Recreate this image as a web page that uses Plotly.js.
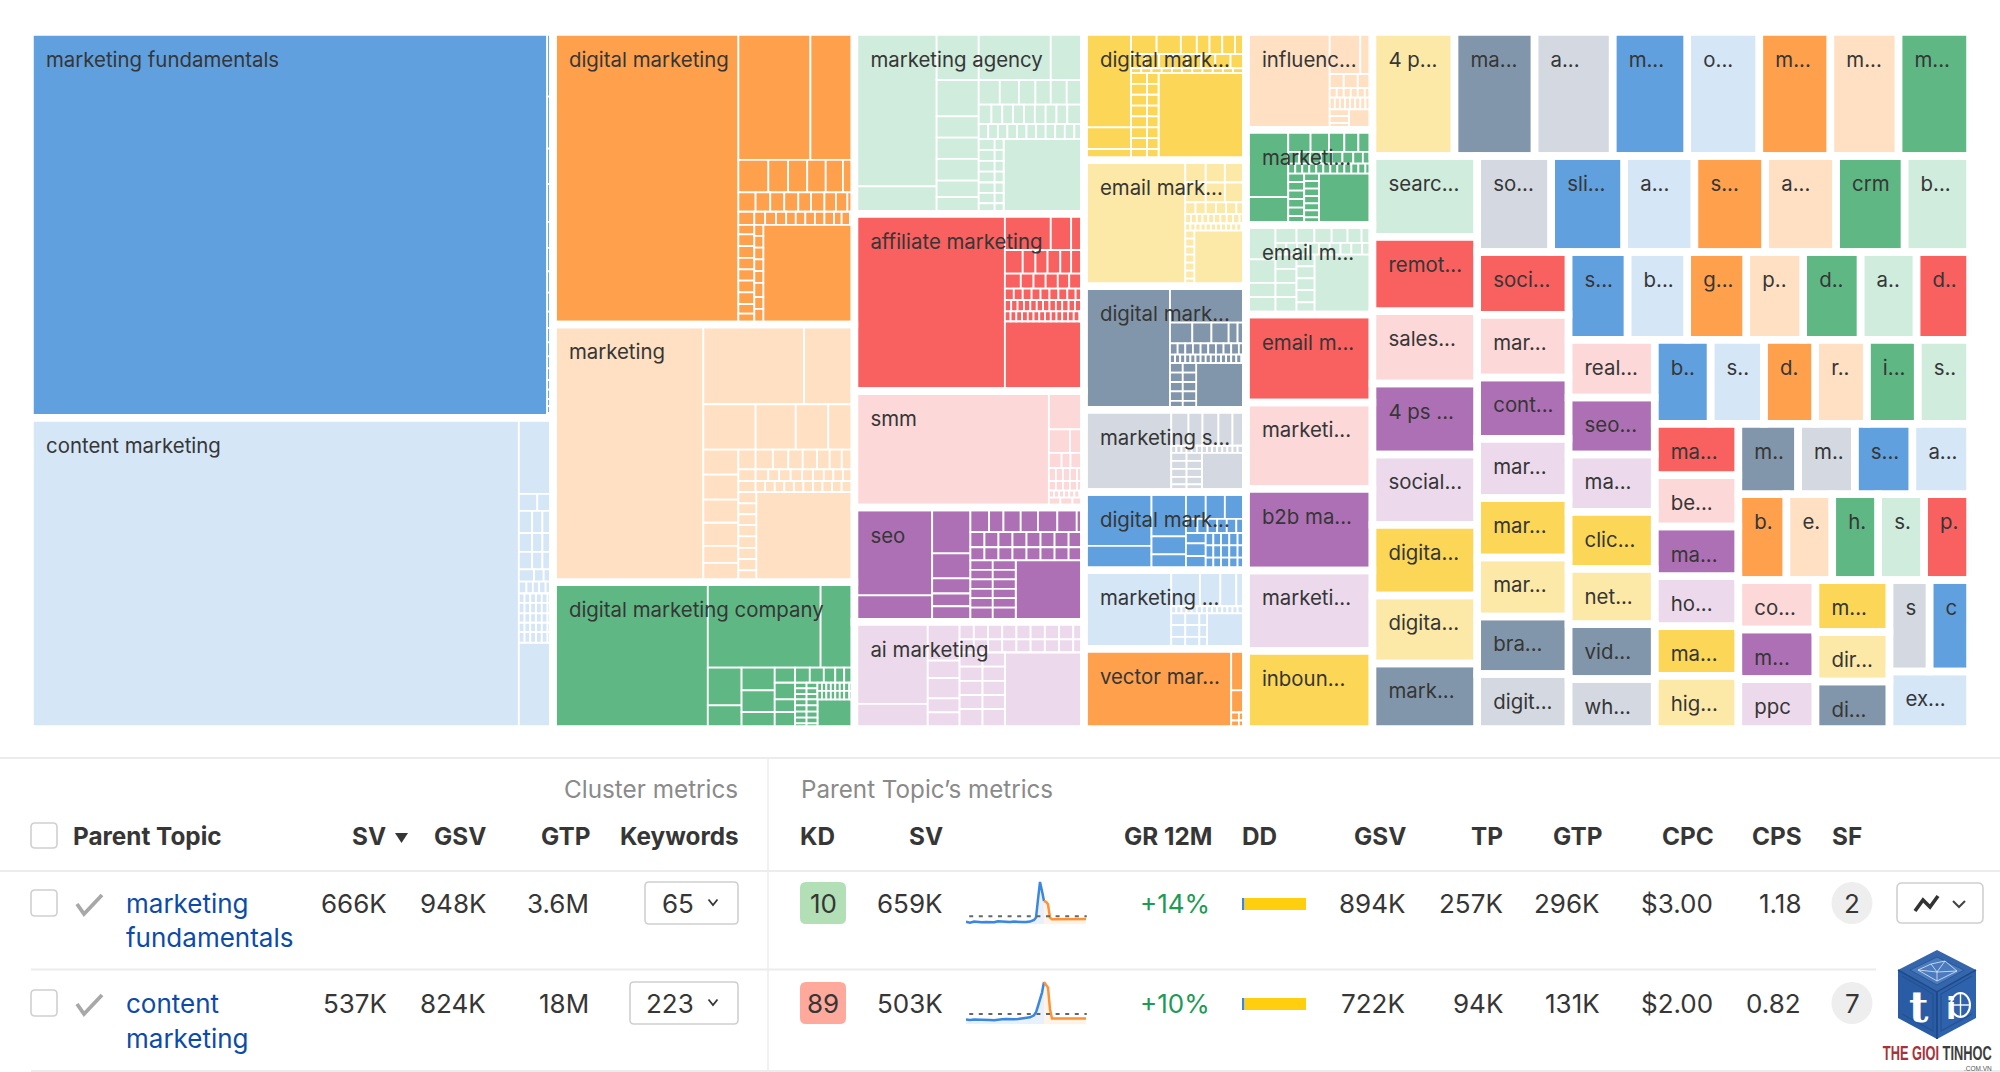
<!DOCTYPE html>
<html><head><meta charset="utf-8"><script src="https://cdn.plot.ly/plotly-3.0.1.min.js"></script>
<style>html,body{margin:0;padding:0;background:#fff}</style></head>
<body><div id="chart" style="width:2000px;height:1072px"></div>
<script>
// ---------- treemap data: cluster size (thousands of SV), in display order ----------
const topicLabels = ["marketing fundamentals","content marketing","digital marketing","marketing","digital marketing company","marketing agency","affiliate marketing","smm","seo","ai marketing",
"digital mark...","email mark...","digital mark...","marketing s...","digital mark...","marketing ...","vector mar...",
"influenc...","marketi...","email m...","email m...","marketi...","b2b ma...","marketi...","inboun...",
"4 p...","ma...","a...","m...","o...","m...","m...","m...",
"searc...","remot...","sales...","4 ps ...","social...","digita...","digita...","mark...",
"so...","sli...","a...","s...","a...","crm","b...",
"soci...","mar...","cont...","mar...","mar...","mar...","bra...","digit...",
"s...","b...","g...","p..","d..","a..","d..",
"real...","seo...","ma...","clic...","net...","vid...","wh...",
"b..","s..","d.","r..","i...","s..",
"ma...","be...","ma...","ho...","ma...","hig...",
"m..","m..","s...","a...",
"b.","e.","h.","s.","p.",
"co...","m...","ppc",
"m...","dir...","di...",
"s","c","ex..."];
const topicSV = [666,537,291,256.5,146,137.6,134.4,88.3,86.5,81.2,
68.6,67.3,66.1,43.9,41.9,41.9,42.9,
40.8,39.8,37.4,36.7,36.1,34.1,33.5,32.7,
33.6,32.8,32.0,30.6,29.5,29.1,27.9,29.3,
27.9,25.8,25.0,24.5,24.3,24.5,23.5,22.7,
23.4,23.1,22.2,22.4,22.4,21.7,20.7,
18.9,18.9,18.5,17.8,17.9,17.8,17.3,16.6,
17.1,17.3,17.1,16.5,16.6,16.2,15.5,
16.4,16.2,16.3,16.2,15.8,15.6,14.2,
15.5,14.8,14.2,14.3,14.1,14.5,
14.2,14.2,13.7,13.8,13.7,14.7,
13.9,13.2,13.4,13.4,
13.6,13.0,13.0,13.0,13.0,
12.6,12.6,12.7,
12.7,12.1,11.6,
12.1,12.2,15.3];
// how many consecutive topics form each band; a nested list is the remaining area
const bandTree = [2,3,5,7,8,[8,[8,[7,[8,[7,[7,[6,[6,[4,5,[3,3,[2,1]]]]]]]]]]]];
const paletteCycle = ["#60A0DF","#D5E6F6","#FFA04D","#FFE0C2","#5FB884","#CFECDD","#F96060","#FCD8D8","#AE70B5","#ECDAEC","#FCD757","#FDE9A7","#8296AB","#D4D9E1"];
// share of each cluster held by its keywords (entry = share, or [share, sub-list])
const keywordSplits = {
0:[811,[9,[137,110,75,80,55,50,45,40,35,30,30,25,25,20,20,15,15,10]]],
1:[766.5,[53.5,[161,[36,[29,24.5]],[47,[21,16,16.5]],[40,[21,16,16.5]],[37,[21,16,16.5]],[26,[24,15,14.5]],[25,[12,10,10,10,11.5]],[20,[9,9,9,9,9,8.5]],[22,[9,9,9,9,9,8.5]],[20,[9,9,9,9,9,8.5]],[20,[9,9,9,9,9,8.5]],[22,[9,9,9,9,9,8.5]],183]]],
2:[291,[182,[[271,[113,69]],[69,[47,31,30,29,27,18]],[41,[27,23,22,22,20,21,18,18,11]],[28,[25,17,17,16,15,15,15,15,15,12,13,7]],[211,[[25,[20,25,25,24,24,25,25,20,23]],[14,[23,25,25,25,25,30,25,33]],143]]]]],
3:[236,[237,[[169,[158,79]],[96,[82,63,51,41]],[281,[[55,[53,53,49,49,36,41]],[182,[[42,[30,30,27,25,25,22,21,22]],[25,[27,20,17,18,18,17,17,15,15,18]],[23,[27,15,15,15,15,15,15,15,15,15,20]],[191,[[28,[24,23,23,24,24,24,24,25]],154]]]]]]]]],
4:[243,[230,[[181,[177,53]],[130,[[53,[80,50]],[52,[48,46,36]],[125,[[32,[32,23,22,18,14,16]],[98,[[32,[35,27,36]],[93,[[35,[[18,[12,12,11]],[17,[12,12,11]],[58,[[17,[7,7,7,7,7,7,8,8]],[18,[7,7,7,7,7,7,8,8]]]]]],[63,[[18,[13,13,13,12,12]],[17,[13,13,13,12,12]],58]]]]]]]]]]]]],
5:[[129,[327,58]],[66,[102,77,45,45,46,35,35]],[165,[[102,[113,52]],[52,[33,30,26,24,25,27]],[41,[20,17,17,17,17,17,17,17,26]],[32,[15,15,15,15,15,15,15,15,15,15,15]],[158,[[25,[23,23,23,23,22,22,22]],[14,[23,23,23,23,22,22,22]],126]]]]],
6:[236,[124,[[77,[72,32,20]],[50,[28,20,19,20,17,20]],[32,[25,20,19,19,18,23]],[24,[14,14,14,14,14,14,14,13,13]],[24,[10,10,10,10,10,10,10,10,10,10,10,14]],[21,[9,9,9,9,9,9,9,9,9,9,9,9,9,7]],148]]],
7:[305,[55,[81,[50,[33,22]],[32,[20,14,21]],[28,[11,11,11,11,11]],[20,[11,11,11,11,11]],[15,[8,8,8,8,8,8,7]],[21,[18,19,18]]]]],
8:[[122,[186,56]],[60,[97,53,32,27,33]],[178,[[52,[26,20,24,24,27,27,10]],[32,[22,22,22,22,22,22,22,24]],[28,[22,22,22,22,22,22,22,24]],[130,[[35,[20,20,20,20,20,30]],[36,[20,20,20,20,20,30]],107]]]]],
9:[[115,[174,53]],[50,[82,37,43,30,35]],[195,[[37,[20,20,20,20,20,20,20,20,15]],[28,[20,20,20,20,20,20,20,20,15]],[162,[[36,[30,30,30,30,42]],[35,[30,30,30,30,42]],124]]]]],
10:[[74,[202,46,24]],[180,[[47,[40,38,25,20,20,20,17]],[30,[22,22,22,22,22,22,24,24]],[10,[16,16,16,16,16,16,16,16,16,16,20]],[185,[[25,[23,23,23,23,23,23,23,24]],[18,[23,23,23,23,23,23,23,24]],137]]]]],
11:[159,[95,[[47,[32,30,33]],[42,[32,30,33]],[25,[16,16,16,16,16,15]],[20,[9,9,9,9,9,10,10,10,10,10]],[15,[8,8,8,8,8,8,8,8,8,8,8,7]],[118,[[14,[17,17,17,17,17,17,16]],81]]]]],
12:[135,[119,[77,[44,[35,30,27,14,13]],[24,[12,12,12,12,12,12,12,12,12,11]],[18,[8,8,8,8,8,8,8,8,8,8,8,8,8,8,7]],[99,[[20,[20,20,20,20,19]],[21,[20,20,20,20,19]],78]]]]],
13:[137,[117,[[76,[27,22,25,22,21]],[15,[8,8,8,8,8,8,8,8,8,8,8,8,8,13]],[83,[[24,[17,17,17,16,16]],[24,[17,17,17,16,16]],69]]]]],
14:[[106,[114,52]],[54,[94,38,34]],[94,[[57,[31,30,33]],[30,[18,16,15,15,15,15]],[79,[[31,[22,27,30]],[63,[[26,[12,12,13,13,13]],[26,[12,12,13,13,13]],[27,[12,12,13,13,13]]]]]]]]],
15:[137,[117,[[76,[45,32,25,15]],[15,[8,8,8,8,8,8,8,8,8,8,8,8,8,13]],[75,[[22,[25,25,25]],[22,[25,25,25]],[12,[25,25,25]],61]]]]],
16:[231,[23,[88,47,[35,[[12,[17,18]],[11,[17,18]]]]]]],
17:[131.5,[67,[[89,[48,19]],[30,[22,22,23]],[20,[11,11,11,11,11,12]],[25,[8,8,8,8,8,8,8,11]],[43,[[30,[14,15,14]],37]]]]],
18:[[66.5,[143,59]],[132,[[47,[35,29,24,22,22]],[25,[17,17,17,17,17,17,15,15]],[21,[11,11,11,11,11,11,11,11,11,11,11,11]],[109,[[25,[18,18,18,18,18,19]],[23,[16,16,16,15,15,15,16]],84]]]]],
19:[[46.5,[73,50,30,37]],[152,[[38,[33,28,27,25,22,17]],[25,[17,17,17,17,17,17,17,17,16]],[127,[[33,[30,30,30,37]],[28,[25,25,25,26,26]],91]]]]]
};
// ---------- table data ----------
const clusterHeaders=["SV","GSV","GTP","Keywords"];
const parentHeaders=["SV","GR 12M","GSV","TP","GTP","CPC","CPS"];
const rowTopicLine1=["marketing","content"];
const rowTopicLine2=["fundamentals","marketing"];
const rowSV=["666K","537K"],rowGSV=["948K","824K"],rowGTP=["3.6M","18M"],rowKeywords=["65","223"];
const rowKD=["10","89"],rowKDColor=["#B2DFB5","#FFA99C"];
const rowPSV=["659K","503K"],rowGrowth=["+14%","+10%"];
const rowPGSV=["894K","722K"],rowTP=["257K","94K"],rowPGTP=["296K","131K"],rowCPC=["$3.00","$2.00"],rowCPS=["1.18","0.82"],rowSF=["2","7"];
const ddPaid=[2.5,2.5],ddOrganic=[61.5,61.5];
const sparkBlueX=[0,1,2,3,4,5,6,7,8,9,10,11,12,13,14,15,16,17,17.5,18,18.5,19,19.5];
const sparkOrangeX=[19.5,20,20.5,21,21.5,22,23,24,25,26,27,28,29,30];
const sparkBlue1=[2.7,1.7,2.7,2.3,2,2.3,2,2,3,2.7,2,2.3,2.7,2.3,2.3,2.3,2.7,4.3,6.7,25,42.3,33.3,23.3];
const sparkOrange1=[23.3,22.5,20,6.7,5,5,5,5,5,5,5.3,5,5.3,5.3];
const sparkAvg1=8;
const sparkBlue2=[4.7,4.3,4.7,4.7,5,5,4.3,4,4.7,5,5.3,5,5,5.3,5.7,6,7,9,12,18.3,24,31.7,42.3];
const sparkOrange2=[42.3,40,36.7,15,5.7,5.7,5.7,5.7,5.7,5.7,5.7,5.7,5.7,5.7];
const sparkAvg2=10.3;

// ---------- build treemap hierarchy ----------
const leafIds=[],leafParents=[],leafVals=[],leafColors=[],leafLines=[];
const gapIds=[],gapParents=[],gapVals=[],gapTexts=[];
let cursor=0;
function addSplit(list,parent,value,color){
  const tot=list.reduce((a,e)=>a+(Array.isArray(e)?e[0]:e),0);
  list.forEach((e,i)=>{
    const w=Array.isArray(e)?e[0]:e, id=parent+'.'+i, v=value*w/tot;
    leafIds.push(id);leafParents.push(parent);leafColors.push(color);
    if(Array.isArray(e)){leafVals.push(0);leafLines.push(0);addSplit(e[1],id,v,color);}
    else{leafVals.push(v);leafLines.push(1.8);}
  });
}
function addTopic(parent,idx){
  const id='t'+idx,col=paletteCycle[idx%paletteCycle.length],split=keywordSplits[idx];
  leafIds.push(id);leafParents.push(parent);leafColors.push(col);
  if(split){leafVals.push(0);leafLines.push(0);addSplit(split,id,topicSV[idx],col);}
  else{leafVals.push(topicSV[idx]);leafLines.push(1.8);}
  gapIds.push(id);gapParents.push(parent);gapVals.push(topicSV[idx]);gapTexts.push(topicLabels[idx]);
}
function addGroup(tree,id,parent){
  leafIds.push(id);leafParents.push(parent);leafVals.push(0);leafColors.push('rgba(0,0,0,0)');leafLines.push(0);
  gapIds.push(id);gapParents.push(parent);gapVals.push(0);gapTexts.push('');
  tree.forEach((band,i)=>{
    const bid=id+'_'+i;
    if(Array.isArray(band)){addGroup(band,bid,id);}
    else{
      leafIds.push(bid);leafParents.push(id);leafVals.push(0);leafColors.push('rgba(0,0,0,0)');leafLines.push(0);
      gapIds.push(bid);gapParents.push(id);gapVals.push(0);gapTexts.push('');
      for(let k=0;k<band;k++){addTopic(bid,cursor);cursor++;}
    }
  });
}
addGroup(bandTree,'root','');

const W=2000,H=1072;
const px=x=>x/W, py=y=>1-y/H;
const tmX=[30,1970],tmY=[32,729];
const common={type:'treemap',sort:false,branchvalues:'remainder',maxdepth:-1,
  tiling:{packing:'slice-dice',pad:0},pathbar:{visible:false},hoverinfo:'skip',
  root:{color:'rgba(0,0,0,0)'}};
const clear=gapIds.map(()=> 'rgba(0,0,0,0)');
const domain={x:[px(tmX[0]),px(tmX[1])],y:[py(tmY[1]),py(tmY[0])]};
const labelDx=13,labelDy=12;
const traces=[
 Object.assign({},common,{ids:leafIds,labels:leafIds,parents:leafParents,values:leafVals,domain,textinfo:'none',
  marker:{colors:leafColors,depthfade:false,pad:{t:0,l:0,r:0,b:0},line:{color:'#fff',width:leafLines}},leaf:{opacity:1}}),
 Object.assign({},common,{ids:gapIds,labels:gapIds,parents:gapParents,values:gapVals,domain,textinfo:'none',
  marker:{colors:clear,depthfade:false,pad:{t:0,l:0,r:0,b:0},line:{color:'#fff',width:gapIds.map((d,i)=>gapTexts[i]?7.5:0)}},leaf:{opacity:1}}),
 Object.assign({},common,{ids:gapIds,labels:gapIds,parents:gapParents,values:gapVals,
  domain:{x:[px(tmX[0]+labelDx),px(tmX[1]+labelDx)],y:[py(tmY[1]+labelDy),py(tmY[0]+labelDy)]},
  textinfo:'text',text:gapTexts,textposition:'top left',textfont:{family:'Inter',size:20.4,color:'#363636'},
  marker:{colors:clear,depthfade:false,pad:{t:0,l:0,r:0,b:0},line:{color:'rgba(0,0,0,0)',width:0}},leaf:{opacity:1}})
];

// ---------- table ----------
const anns=[],shapes=[];
const FS=26;
function T(text,x,y,anchor,o={}){anns.push({text,x:px(x),y:py(y),xref:'paper',yref:'paper',xanchor:anchor||'right',yanchor:'middle',showarrow:false,align:anchor||'right',borderpad:0,
  font:{family:'Inter',size:o.size||FS,color:o.color||'#363636',weight:o.weight||400}});}
function lineS(x0,y0,x1,y1,color,w){shapes.push({type:'line',xref:'paper',yref:'paper',x0:px(x0),x1:px(x1),y0:py(y0),y1:py(y1),line:{color,width:w}});}
function roundRect(x0,y0,x1,y1,r,fill,stroke,w){
  const p=`M${px(x0+r)},${py(y0)} L${px(x1-r)},${py(y0)} Q${px(x1)},${py(y0)} ${px(x1)},${py(y0+r)} L${px(x1)},${py(y1-r)} Q${px(x1)},${py(y1)} ${px(x1-r)},${py(y1)} L${px(x0+r)},${py(y1)} Q${px(x0)},${py(y1)} ${px(x0)},${py(y1-r)} L${px(x0)},${py(y0+r)} Q${px(x0)},${py(y0)} ${px(x0+r)},${py(y0)} Z`;
  shapes.push({type:'path',xref:'paper',yref:'paper',path:p,fillcolor:fill,line:{color:stroke||'rgba(0,0,0,0)',width:w||0}});
}
function poly(pts,color,w,fill,close){
  const p=pts.map((q,i)=>(i?'L':'M')+px(q[0])+','+py(q[1])).join(' ')+(close?' Z':'');
  shapes.push({type:'path',xref:'paper',yref:'paper',path:p,fillcolor:fill||'rgba(0,0,0,0)',line:{color:color||'rgba(0,0,0,0)',width:w||0}});
}
const GRID='#ececec',BOX='#d0d0d0';
lineS(0,758,2000,758,GRID,2);lineS(0,871,2000,871,GRID,2);
lineS(768,758,768,1072,GRID,1.5);
lineS(31,969.5,2000,969.5,GRID,2);lineS(31,1071,2000,1071,GRID,2);
T("Cluster metrics",739,789,'right',{color:'#8a8a8a',size:24.3});
T("Parent Topic’s metrics",799.5,789,'left',{color:'#8a8a8a',size:24.2});
const HY=836,HW=650,HS=24.3;
roundRect(31,823,57,848,4,'#fff',BOX,1.6);
T("Parent Topic",72,HY,'left',{weight:HW,size:HS});
const clusterHeaderX=[386.5,487,591,739.5];
clusterHeaders.forEach((h,i)=>T(h,clusterHeaderX[i],HY,'right',{weight:HW,size:HS}));
poly([[395,833],[408,833],[401.5,843]],'#363636',0,'#363636',true);
T("KD",799,HY,'left',{weight:HW,size:HS});
const parentHeaderX=[944,1213,1406.5,1504,1603,1715,1803];
parentHeaders.forEach((h,i)=>T(h,parentHeaderX[i],HY,'right',{weight:HW,size:HS}));
T("DD",1241,HY,'left',{weight:HW,size:HS});
T("SF",1831,HY,'left',{weight:HW,size:HS});
const rowY=[903,1003],rowY2=[937,1038];
const LINK='#0D4BA8';
rowY.forEach((y,i)=>{
  const top=y-21,bot=y+21;
  roundRect(31,y-13,57,y+13,4,'#fff',BOX,1.6);
  poly([[77,y+1],[84,y+11],[102,y-8]],'#a8a8a8',3.8);
  T(rowTopicLine1[i],125,y,'left',{color:LINK});
  T(rowTopicLine2[i],125,rowY2[i],'left',{color:LINK});
  T(rowSV[i],388,y);T(rowGSV[i],486.5,y);T(rowGTP[i],590,y);
  const bx=i?630:645;
  roundRect(bx,top,738,bot,4,'#fff',BOX,1.6);
  T(rowKeywords[i],694.5,y);
  poly([[708.5,y-3.5],[713,y+2],[717.5,y-3.5]],'#363636',1.8);
  roundRect(800,top,846,bot,6,rowKDColor[i]);
  T(rowKD[i],823,y,'center');
  T(rowPSV[i],943.5,y);
  T(rowGrowth[i],1211,y,'right',{color:'#1E9A56'});
  T(rowPGSV[i],1405.5,y);T(rowTP[i],1503.5,y);T(rowPGTP[i],1601,y);T(rowCPC[i],1713.5,y);T(rowCPS[i],1802,y);
  shapes.push({type:'circle',xref:'paper',yref:'paper',x0:px(1831.5),x1:px(1872.5),y0:py(bot),y1:py(top),fillcolor:'#eeeeee',line:{width:0}});
  T(rowSF[i],1852,y,'center');
  roundRect(1897,top+1,1983,bot-1,5,'#fff',BOX,1.6);
  poly([[1915,y+8],[1923,y-3],[1930,y+4],[1938,y-7]],'#333',3.6);
  poly([[1953,y-2],[1959,y+4],[1965,y-2]],'#444',2);
});
// watermark
shapes.push({type:'rect',xref:'paper',yref:'paper',x0:px(1876),x1:px(2000),y0:py(1072),y1:py(947),fillcolor:'#fff',line:{width:0}});
lineS(1876,1071,2000,1071,GRID,2);
poly([[1937,950],[1976,970],[1937,992],[1898,970]],null,0,'#3566AC',true);
poly([[1898,970],[1937,992],[1937,1039],[1898,1018]],null,0,'#2A5CA6',true);
poly([[1976,970],[1937,992],[1937,1039],[1976,1018]],null,0,'#2F62AC',true);
poly([[1937,957],[1964,970],[1937,985],[1910,970]],'#2A5797',1,'#4A7BBE',true);
[[[1918,970],[1931,964],[1945,961],[1957,971],[1937,981],[1918,970]],[[1931,964],[1937,972],[1945,961]],[[1937,972],[1937,981]],[[1937,972],[1957,971]],[[1937,972],[1918,970]]].forEach(s=>poly(s,'#dfe9f6',0.8));
poly([[1937,992],[1937,1039]],'#1F4A8A',2);
poly([[1898,970],[1937,992],[1976,970]],'#1F4A8A',1.5);
poly([[1902,976],[1933,994],[1933,1031],[1902,1014]],'#24528F',1.2);
poly([[1972,976],[1941,994],[1941,1031],[1972,1014]],'#24528F',1.2);
const logoAnn=o=>anns.push(Object.assign({xref:'paper',yref:'paper',xanchor:'center',yanchor:'middle',showarrow:false},o));
logoAnn({text:'t',x:px(1919),y:py(1007),font:{family:'DejaVu Serif',size:42,color:'#fff',weight:700}});
logoAnn({text:'i',x:px(1951),y:py(1008),font:{family:'DejaVu Sans',size:30,color:'#fff',weight:700}});
shapes.push({type:'circle',xref:'paper',yref:'paper',x0:px(1951),x1:px(1970),y0:py(1017),y1:py(993),fillcolor:'rgba(0,0,0,0)',line:{color:'#fff',width:2}});
poly([[1960.5,993],[1960.5,1017]],'#fff',1.4);poly([[1952,1005],[1970,1005]],'#fff',1.4);
logoAnn({text:'<span style="color:#A8323A">THE GIOI</span> <span style="color:#3d3d3d">TINHOC</span>',x:px(1937.5),y:py(1052.5),font:{family:'Liberation Sans',size:21,weight:700}});
logoAnn({text:'.COM.VN',x:px(1978),y:py(1068),font:{family:'Liberation Sans',size:6.5,color:'#555'}});

// ---------- sparklines and DD bars ----------
const layoutExtras={};
const sparks=[[sparkBlue1,sparkOrange1,sparkAvg1,880,924.3],[sparkBlue2,sparkOrange2,sparkAvg2,980,1024.3]];
sparks.forEach((s,i)=>{
  const xn='x'+(i*2+2),yn='y'+(i*2+2);
  layoutExtras['xaxis'+(i*2+2)]={domain:[px(966),px(1088)],range:[0,30.5],visible:false,fixedrange:true,anchor:yn};
  layoutExtras['yaxis'+(i*2+2)]={domain:[py(s[4]),py(s[3])],range:[0,44.3],visible:false,fixedrange:true,anchor:xn};
  traces.push({type:'scatter',mode:'lines',x:sparkBlueX,y:s[0],xaxis:xn,yaxis:yn,line:{color:'#3B87E0',width:2.5},fill:'tozeroy',fillcolor:'rgba(59,135,224,0.12)',hoverinfo:'skip',showlegend:false});
  traces.push({type:'scatter',mode:'lines',x:sparkOrangeX,y:s[1],xaxis:xn,yaxis:yn,line:{color:'#FF9233',width:2.5},fill:'tozeroy',fillcolor:'rgba(255,146,51,0.12)',hoverinfo:'skip',showlegend:false});
  traces.push({type:'scatter',mode:'lines',x:[0.8,30.2],y:[s[2],s[2]],xaxis:xn,yaxis:yn,line:{color:'#666',width:2,dash:'4px,5.6px'},hoverinfo:'skip',showlegend:false});
  const xb='x'+(i*2+3),yb='y'+(i*2+3),cy=rowY[i]+1;
  layoutExtras['xaxis'+(i*2+3)]={domain:[px(1242),px(1306)],range:[0,64],visible:false,fixedrange:true,anchor:yb};
  layoutExtras['yaxis'+(i*2+3)]={domain:[py(cy+6),py(cy-6)],range:[-0.5,0.5],visible:false,fixedrange:true,anchor:xb};
  traces.push({type:'bar',orientation:'h',x:[ddPaid[i]],y:[0],width:1,xaxis:xb,yaxis:yb,marker:{color:'#3B87E0',line:{width:0}},hoverinfo:'skip',showlegend:false});
  traces.push({type:'bar',orientation:'h',x:[ddOrganic[i]],y:[0],width:1,base:ddPaid[i],xaxis:xb,yaxis:yb,marker:{color:'#FFCF0F',line:{width:0}},hoverinfo:'skip',showlegend:false});
});
const layout=Object.assign({width:W,height:H,margin:{l:0,r:0,t:0,b:0},paper_bgcolor:'#fff',plot_bgcolor:'rgba(0,0,0,0)',showlegend:false,barmode:'overlay',
  uniformtext:{mode:'show',minsize:20.4},annotations:anns,shapes:shapes},layoutExtras);
Plotly.newPlot('chart',traces,layout,{displayModeBar:false,staticPlot:true}).then(gd=>{
  gd.querySelectorAll('.annotation-text').forEach(t=>{
    if(t.textContent.indexOf('THE GIOI')===0){
      const b=t.getBBox(),cx=b.x+b.width/2,k=109/b.width;
      t.setAttribute('transform',`translate(${cx} 0) scale(${k} 1) translate(${-cx} 0)`);
    }
  });
});
</script></body></html>
